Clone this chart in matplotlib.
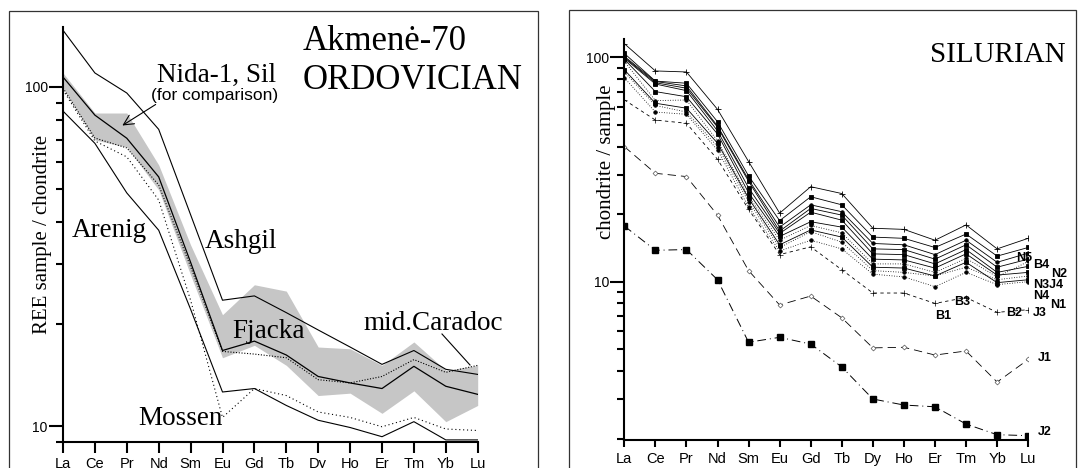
import matplotlib
matplotlib.use('Agg')
import matplotlib.pyplot as plt
from matplotlib.patches import Rectangle
from matplotlib.ticker import FixedLocator, NullFormatter, FixedFormatter
import numpy as np

W, H = 1082, 468
SERIF = 'Liberation Serif'
SANS = 'Liberation Sans'

elements = ['La', 'Ce', 'Pr', 'Nd', 'Sm', 'Eu', 'Gd', 'Tb', 'Dy', 'Ho', 'Er', 'Tm', 'Yb', 'Lu']

# left panel: Akmene-70, Ordovician
ashgil = [147, 110, 96, 75, 42, 23.5, 24.2, 21.6, 19.2, 17.1, 15.2, 16.7, 14.7, 14.2]
fjacka = [107, 82.6, 70.6, 54.3, 30.4, 16.7, 17.8, 16.2, 14.0, 13.4, 12.9, 15.0, 13.1, 12.4]
arenig = [84.9, 68.2, 48.7, 37.8, 22.1, 12.6, 12.9, 11.5, 10.4, 9.9, 9.3, 10.3, 9.1, 9.1]
caradoc = [99.3, 70.7, 66.1, 51.4, 29.5, 16.6, 16.3, 15.9, 13.7, 13.4, 14.0, 15.7, 14.4, 15.1]
mossen = [98, 69.3, 62.2, 46.4, 23.5, 10.6, 12.9, 12.3, 11.0, 10.6, 9.95, 10.6, 9.8, 9.7]
nida_hi = [110, 83.8, 83.8, 58.9, 34.2, 21.3, 26.1, 25.0, 17.1, 16.9, 15.1, 17.7, 14.6, 15.1]
nida_lo = [99.3, 69.8, 66.5, 49.7, 27.9, 15.9, 17.3, 15.1, 12.3, 12.5, 10.9, 12.7, 10.3, 11.5]

# right panel: Silurian samples
N5 = [115, 86.9, 86, 58.6, 34.3, 20.2, 26.5, 24.7, 17.3, 17.1, 15.3, 17.9, 14.0, 15.6]
B4 = [104, 78.3, 76.6, 51.6, 29.6, 18.7, 23.9, 22.0, 15.8, 15.6, 14.2, 16.3, 13.0, 14.2]
N2 = [101, 78.0, 74.5, 49.4, 28.5, 17.5, 22.0, 20.5, 14.8, 14.6, 13.2, 15.3, 12.2, 13.4]
N3 = [100, 77.0, 72.8, 48.8, 28.0, 16.8, 21.2, 19.8, 14.0, 13.9, 12.6, 14.6, 11.6, 12.6]
N4 = [99, 76.0, 71.0, 47.0, 26.2, 16.4, 20.4, 18.8, 13.3, 13.2, 12.0, 13.9, 11.0, 11.7]
N1 = [98, 70.3, 66.7, 45.5, 24.9, 15.9, 18.5, 17.5, 12.6, 12.5, 11.5, 13.3, 10.7, 11.0]
J4 = [96, 64.1, 64.5, 42.4, 24.0, 15.3, 17.8, 16.5, 12.0, 12.0, 11.0, 12.7, 10.5, 12.3]
B2 = [88, 62.4, 59.3, 41.4, 23.5, 14.6, 17.0, 15.8, 11.6, 11.5, 10.6, 12.2, 9.9, 10.2]
B3 = [86, 61.0, 57.0, 40.0, 22.7, 14.2, 16.7, 15.0, 11.2, 11.0, 10.6, 11.6, 10.2, 10.6]
B1 = [81, 57.0, 55.7, 38.6, 21.5, 13.7, 15.3, 14.0, 10.8, 10.5, 9.5, 11.0, 9.7, 10.0]
J3 = [64.6, 52.5, 50.8, 35.1, 21.0, 13.2, 14.3, 11.3, 8.9, 8.9, 8.0, 8.5, 7.3, 7.5]
J1 = [40, 30.4, 29.4, 19.8, 11.2, 7.87, 8.63, 6.9, 5.07, 5.1, 4.71, 4.91, 3.57, 4.5]
J2 = [17.7, 13.8, 13.9, 10.2, 5.37, 5.65, 5.27, 4.17, 3.0, 2.82, 2.77, 2.32, 2.08, 2.06]


def fx(x):
    return x / W


def fy(y):
    return 1 - y / H


def style_axis(ax, ylim, minor, xtick_len, xpad):
    ax.set_yscale('log')
    ax.set_xlim(0, len(elements) - 1)
    ax.set_ylim(*ylim)
    for s in ['top', 'right']:
        ax.spines[s].set_visible(False)
    for s in ['left', 'bottom']:
        ax.spines[s].set_linewidth(1.5)
    ax.set_xticks(range(len(elements)))
    ax.set_xticklabels(elements, fontsize=10.5, family=SANS)
    ax.yaxis.set_major_locator(FixedLocator([10, 100]))
    ax.yaxis.set_major_formatter(FixedFormatter(['10', '100']))
    ax.yaxis.set_minor_locator(FixedLocator(minor))
    ax.yaxis.set_minor_formatter(NullFormatter())
    ax.tick_params(axis='y', which='major', length=10, width=1.5, pad=1, labelsize=10)
    ax.tick_params(axis='y', which='minor', length=5, width=1.5)
    ax.tick_params(axis='x', length=xtick_len, width=1.5, pad=xpad)
    for lab in ax.get_yticklabels():
        lab.set_family(SANS)
    ax.patch.set_alpha(0)


fig = plt.figure(figsize=(W / 100, H / 100), dpi=100)

# panel frames
fig.add_artist(Rectangle((fx(9), -0.1), fx(538) - fx(9), fy(11) + 0.1,
                         transform=fig.transFigure, fill=False, ec='#333333', lw=0.9))
fig.add_artist(Rectangle((fx(569), -0.1), fx(1076) - fx(569), fy(10) + 0.1,
                         transform=fig.transFigure, fill=False, ec='#333333', lw=0.9))

# ---------- left panel ----------
ax1 = fig.add_axes([fx(63), fy(441.7), (477.7 - 63) / W, (441.7 - 27) / H])
x = np.arange(len(elements))
ax1.fill_between(x, nida_lo, nida_hi, color='#c6c6c6', lw=0)
ax1.plot(x, ashgil, color='black', lw=0.8)
ax1.plot(x, fjacka, color='black', lw=0.9)
ax1.plot(x, arenig, color='black', lw=0.8)
ax1.plot(x, caradoc, color='black', lw=0.8, ls=(0, (1, 1.5)))
ax1.plot(x, mossen, color='black', lw=0.8, ls=(0, (1, 2.5)))
style_axis(ax1, (8.99, 150.3), [9, 20, 30, 40, 50, 60, 70, 80, 90], 8, 3)
ax1.set_ylabel('REE sample / chondrite', family=SERIF, fontsize=15)
ax1.yaxis.set_label_coords(fx(35) - fx(63), 0.5)

fig.text(fx(303), fy(50), 'Akmenė-70', family=SERIF, fontsize=25, va='baseline')
fig.text(fx(303), fy(89), 'ORDOVICIAN', family=SERIF, fontsize=25, va='baseline')
fig.text(fx(157), fy(82), 'Nida-1, Sil', family=SERIF, fontsize=19.5, va='baseline')
fig.text(fx(151), fy(100), '(for comparison)', family=SANS, fontsize=12.5, va='baseline')
fig.text(fx(72), fy(237), 'Arenig', family=SERIF, fontsize=19.5, va='baseline')
fig.text(fx(205), fy(248), 'Ashgil', family=SERIF, fontsize=19.5, va='baseline')
fig.text(fx(232), fy(338), 'Fjacka', family=SERIF, fontsize=19.5, va='baseline')
fig.text(fx(138), fy(425), 'Mossen', family=SERIF, fontsize=19.5, va='baseline')
fig.text(fx(363), fy(330), 'mid.Caradoc', family=SERIF, fontsize=19.5, va='baseline')
fig.add_artist(plt.Line2D([fx(442), fx(470)], [fy(334), fy(365)], transform=fig.transFigure,
                          color='black', lw=0.8))
ax1.annotate('', xy=(fx(120), fy(127)), xytext=(fx(158), fy(103)),
             xycoords='figure fraction', textcoords='figure fraction',
             arrowprops=dict(arrowstyle='->', lw=0.8, color='black', mutation_scale=18))

# ---------- right panel ----------
ax2 = fig.add_axes([fx(624.3), fy(440), (1028.2 - 624.3) / W, (440 - 39) / H])
upper = [
    (N5, '-', '+', 'none', 4),
    (B4, '-', 's', 'black', 3.5),
    (N2, '-', 'o', 'black', 2.5),
    (N3, '-', 's', 'black', 3.5),
    (N4, '-', 's', 'black', 3.5),
    (N1, '-', 's', 'black', 3.5),
    (J4, (0, (1, 2)), 'o', 'black', 2.5),
    (B2, '-', 's', 'black', 3.5),
    (B3, (0, (1, 2)), 'o', 'black', 2.5),
    (B1, (0, (1, 2)), 'o', 'black', 2.5),
]
for vals, ls, mk, mfc, ms in upper:
    ax2.plot(x, vals, color='black', lw=0.6, ls=ls, marker=mk, ms=ms, mfc=mfc,
             mec='black', mew=0.6)
ax2.plot(x, J3, color='black', lw=0.6, ls=(0, (4, 4)), marker='+', ms=4, mew=0.5)
ax2.plot(x, J1, color='black', lw=0.6, ls=(0, (10, 6)), marker='D', ms=2.5,
         mfc='white', mec='#555555', mew=0.5)
ax2.plot(x, J2, color='black', lw=0.7, ls=(0, (9, 4, 1, 4)), marker='s', ms=4, mfc='black')
style_axis(ax2, (1.97, 120.6), [2, 3, 4, 5, 6, 7, 8, 9, 20, 30, 40, 50, 60, 70, 80, 90], 5, 3.5)
ax2.set_ylabel('chondrite / sample', family=SERIF, fontsize=15)
ax2.yaxis.set_label_coords(fx(602) - fx(624.3), (440 - 162) / (440 - 39))

fig.text(fx(1066), fy(62), 'SILURIAN', family=SERIF, fontsize=21, va='baseline', ha='right')

labels = [
    ('N5', 12.6, 12.75), ('B4', 13.15, 11.87), ('N2', 13.75, 10.77), ('N3J4', 13.15, 9.62),
    ('N4', 13.15, 8.59), ('N1', 13.7, 7.87), ('B3', 10.6, 8.12), ('B2', 12.3, 7.26),
    ('B1', 10.0, 7.04), ('J3', 13.15, 7.25), ('J1', 13.3, 4.57), ('J2', 13.3, 2.14),
]
for txt, lx, ly in labels:
    ax2.text(lx, ly, txt, fontsize=9, fontweight='bold', family=SANS, va='center',
             ha='left', clip_on=False)

fig.savefig('out.png', dpi=100)
